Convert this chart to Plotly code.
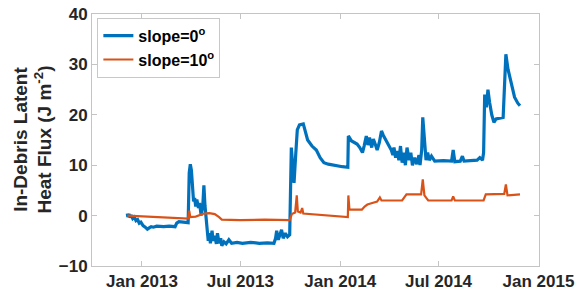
import plotly.graph_objects as go

blue_dates = [
    "2012-12-05", "2012-12-06", "2012-12-08", "2012-12-10", "2012-12-12", "2012-12-15",
    "2012-12-18", "2012-12-21", "2012-12-24", "2012-12-27", "2012-12-30", "2013-01-03",
    "2013-01-07", "2013-01-11", "2013-01-15", "2013-01-18", "2013-01-22", "2013-01-28",
    "2013-02-10", "2013-02-20", "2013-03-03", "2013-03-06", "2013-03-10", "2013-03-18",
    "2013-03-27", "2013-03-29", "2013-03-31", "2013-04-02", "2013-04-04", "2013-04-06",
    "2013-04-08", "2013-04-10", "2013-04-12", "2013-04-15", "2013-04-17", "2013-04-20",
    "2013-04-23", "2013-04-25", "2013-04-27", "2013-04-29", "2013-05-01", "2013-05-03",
    "2013-05-05", "2013-05-07", "2013-05-10", "2013-05-12", "2013-05-15", "2013-05-18",
    "2013-05-20", "2013-05-23", "2013-05-26", "2013-05-28", "2013-06-01", "2013-06-05",
    "2013-06-10", "2013-06-15", "2013-06-25", "2013-07-05", "2013-07-20", "2013-08-05",
    "2013-08-20", "2013-09-01", "2013-09-04", "2013-09-06", "2013-09-09", "2013-09-12",
    "2013-09-15", "2013-09-18", "2013-09-22", "2013-09-26", "2013-09-30", "2013-10-03",
    "2013-10-06", "2013-10-08", "2013-10-11", "2013-10-14", "2013-10-18", "2013-10-25",
    "2013-10-28", "2013-11-02", "2013-11-10", "2013-11-18", "2013-11-25", "2013-12-02",
    "2013-12-10", "2013-12-22", "2014-01-05", "2014-01-15", "2014-01-16", "2014-01-22",
    "2014-02-01", "2014-02-06", "2014-02-11", "2014-02-14", "2014-02-18", "2014-02-21",
    "2014-02-24", "2014-02-28", "2014-03-03", "2014-03-07", "2014-03-10", "2014-03-14",
    "2014-03-18", "2014-03-21", "2014-03-26", "2014-03-31", "2014-04-05", "2014-04-08",
    "2014-04-10", "2014-04-13", "2014-04-16", "2014-04-19", "2014-04-22", "2014-04-25",
    "2014-04-28", "2014-05-01", "2014-05-04", "2014-05-08", "2014-05-11", "2014-05-14",
    "2014-05-18", "2014-05-22", "2014-05-26", "2014-05-28", "2014-05-31", "2014-06-02",
    "2014-06-05", "2014-06-08", "2014-06-11", "2014-06-14", "2014-06-18", "2014-06-24",
    "2014-07-10", "2014-07-25", "2014-07-28", "2014-07-31", "2014-08-10", "2014-08-14",
    "2014-08-17", "2014-09-01", "2014-09-10", "2014-09-15", "2014-09-20", "2014-09-22",
    "2014-09-24", "2014-09-27", "2014-09-30", "2014-10-03", "2014-10-07", "2014-10-11",
    "2014-10-15", "2014-10-28", "2014-11-02", "2014-11-06", "2014-11-11", "2014-11-18",
    "2014-11-24", "2014-11-28",
]
blue_vals = [
    0.4, -0.3, 0.3, -0.4, 0.1, -0.6,
    -0.3, -1.0, -0.8, -1.5, -1.3, -2.0,
    -2.3, -2.7, -2.4, -2.2, -2.3, -2.1,
    -2.2, -2.1, -2.2, -1.5, -1.2, -1.3,
    -1.4, 8.5, 10.2, 9.0, 5.0, 2.8,
    3.5, 1.8, 3.2, 1.5, 2.5, 0.0,
    2.0, 6.0, 2.0, -0.5, -4.0, -5.0,
    -3.5, -5.5, -3.0, -5.0, -4.0, -5.6,
    -3.5, -5.5, -4.5, -6.0, -5.2, -5.6,
    -4.8, -5.5, -5.3, -5.5, -5.3, -5.5,
    -5.4, -5.5, -4.5, -3.0, -4.8, -3.5,
    -2.8, -4.5, -3.5, -4.2, -3.8, 13.5,
    9.0, 6.5, 12.0, 17.0, 18.0, 18.2,
    17.0, 15.0, 13.8, 13.0, 11.5, 10.5,
    10.2, 9.9, 9.7, 9.6, 15.8, 14.8,
    14.2, 13.5, 12.5, 13.8, 15.8, 14.0,
    15.5, 13.5, 15.2, 14.0, 13.0, 14.5,
    16.8, 16.0, 15.0, 14.0, 13.0, 12.0,
    13.5, 11.5, 12.8, 11.0, 13.8, 10.5,
    12.5, 10.0, 13.5, 11.0, 12.5, 10.0,
    11.5, 10.2, 12.0, 10.0, 13.0, 19.5,
    14.0, 11.0, 12.5, 11.0, 11.8, 10.8,
    10.9, 10.8, 13.0, 10.7, 10.8, 11.8,
    10.8, 10.9, 11.0, 11.5, 11.0, 12.5,
    24.0, 21.5, 25.0, 22.5, 20.0, 18.5,
    19.2, 19.5, 32.0, 29.0, 26.5, 23.5,
    22.3, 21.8,
]

orange_dates = [
    "2012-12-05", "2013-03-27", "2013-03-29", "2013-03-31", "2013-04-10", "2013-04-17",
    "2013-04-25", "2013-05-05", "2013-05-15", "2013-05-23", "2013-05-28", "2013-07-01",
    "2013-08-15", "2013-09-30", "2013-10-04", "2013-10-10", "2013-10-13", "2013-10-15",
    "2013-10-20", "2013-10-23", "2013-10-25", "2014-01-15", "2014-01-16", "2014-01-18",
    "2014-02-10", "2014-02-15", "2014-02-20", "2014-03-01", "2014-03-10", "2014-03-15",
    "2014-03-18", "2014-04-25", "2014-05-03", "2014-05-30", "2014-06-02", "2014-06-05",
    "2014-06-12", "2014-07-25", "2014-07-28", "2014-07-31", "2014-09-22", "2014-09-26",
    "2014-10-30", "2014-11-02", "2014-11-05", "2014-11-28",
]
orange_vals = [
    0.0, -0.6, 1.0, -0.3, -0.2, 0.1,
    0.4, 0.5, 0.3, -0.3, -0.8, -0.9,
    -0.8, -0.9, 0.3, 0.6, 4.0, 0.8,
    0.6, 1.5, 0.4, -0.3, 4.0, 1.2,
    1.2, 1.8, 2.2, 2.5, 2.8, 3.6,
    3.0, 3.0, 4.2, 4.2, 7.2, 4.0,
    3.0, 3.0, 3.8, 3.0, 3.0, 4.2,
    4.3, 6.2, 4.0, 4.2,
]

x_ticks = ["2013-01-01", "2013-07-01", "2014-01-01", "2014-07-01", "2015-01-01"]
x_tick_labels = ["Jan 2013", "Jul 2013", "Jan 2014", "Jul 2014", "Jan 2015"]
y_ticks = [-10, 0, 10, 20, 30, 40]

font_family = "Liberation Sans, Arial, Helvetica, sans-serif"
axis_grey = "#c4c4c4"
text_col = "#262626"

fig = go.Figure()
fig.add_trace(go.Scatter(x=blue_dates, y=blue_vals, mode="lines",
                         name="slope=0<sup>o</sup>",
                         line=dict(color="#0072BD", width=3.2)))
fig.add_trace(go.Scatter(x=orange_dates, y=orange_vals, mode="lines",
                         name="slope=10<sup>o</sup>",
                         line=dict(color="#D95319", width=2.2)))

fig.update_layout(
    template="none",
    width=583, height=293,
    margin=dict(l=92, r=44, t=14, b=27, autoexpand=False),
    paper_bgcolor="white", plot_bgcolor="white",
    font=dict(family=font_family, color=text_col),
    showlegend=True,
    legend=dict(x=0.012, y=0.985, xanchor="left", yanchor="top",
                bgcolor="white", bordercolor="#c8c8c8", borderwidth=1,
                font=dict(size=16, color="black", family=font_family, weight="bold"),
                itemwidth=30, tracegroupgap=0),
)
fig.update_xaxes(
    range=["2012-10-01", "2015-01-02"],
    tickvals=x_ticks, ticktext=x_tick_labels,
    ticks="inside", ticklen=5, tickcolor=axis_grey,
    showline=True, linecolor=axis_grey, linewidth=1, mirror="ticks",
    showgrid=False, zeroline=False, automargin=False,
    tickfont=dict(size=17, color=text_col, weight="bold"),
)
fig.update_yaxes(
    range=[-10, 40],
    tickvals=y_ticks,
    ticks="inside", ticklen=5, tickcolor=axis_grey,
    showline=True, linecolor=axis_grey, linewidth=1, mirror="ticks",
    showgrid=False, zeroline=False, automargin=False,
    tickfont=dict(size=17, color=text_col, weight="bold"),
)
fig.add_annotation(
    text="In-Debris Latent<br>Heat Flux (J m<sup>-2</sup>)",
    xref="paper", yref="paper", x=-0.133, y=0.5,
    xanchor="center", yanchor="middle", textangle=-90, showarrow=False,
    font=dict(size=19, color=text_col, weight="bold"),
)

fig.write_html(
    "out.html",
    config={"displayModeBar": False},
    post_script="document.body.style.margin='0';document.body.style.overflow='hidden';",
)
